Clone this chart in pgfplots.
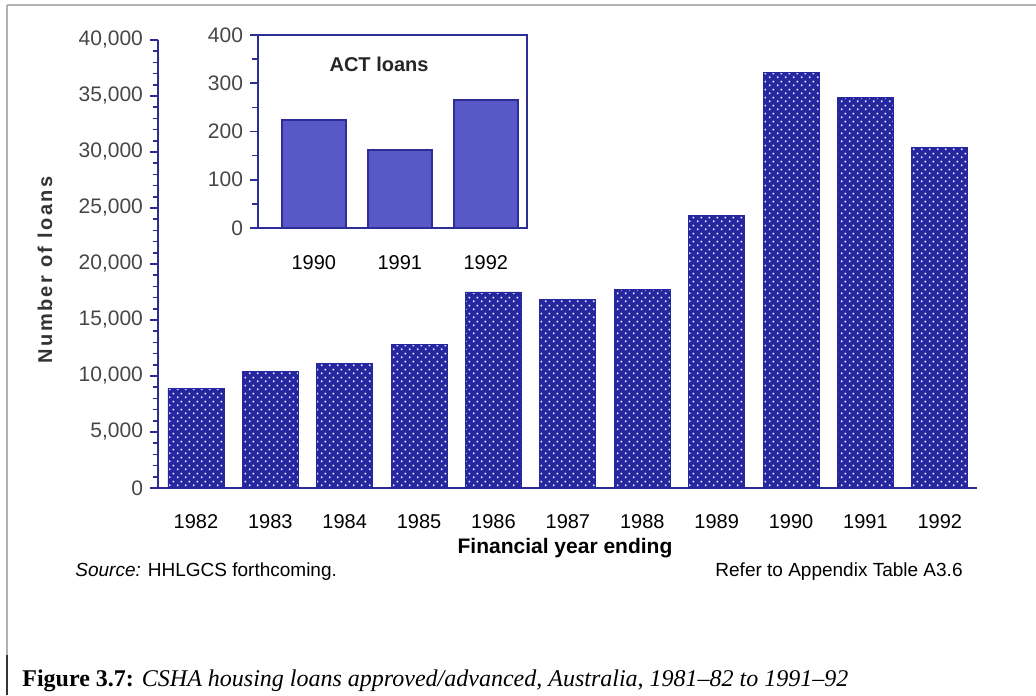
\documentclass[border=0pt]{standalone}
\usepackage{fontspec}
\setmainfont{Liberation Sans}
\newfontfamily\capfont{Liberation Serif}
\newfontfamily\spacedfont[LetterSpace=12]{Liberation Sans}
\usepackage{pgfplots}
\pgfplotsset{compat=1.18}
\usetikzlibrary{patterns.meta}

\definecolor{mainblue}{RGB}{38,38,158}
\definecolor{axblue}{RGB}{45,45,150}
\definecolor{insetfill}{RGB}{88,88,200}
\definecolor{dotcol}{RGB}{205,210,245}
\definecolor{ticktext}{RGB}{70,70,70}

\tikzdeclarepattern{
  name=bardots,
  type=uncolored,
  bottom left={(0pt,0pt)},
  top right={(4pt,4pt)},
  tile size={(4pt,4pt)},
  code={
    \fill (1pt,1pt) circle (0.65pt);
    \fill (3pt,3pt) circle (0.65pt);
  }
}

\pgfplotstableread{
x  loans
0  8900
1  10400
2  11100
3  12800
4  17500
5  16800
6  17700
7  24300
8  37100
9  34900
10 30400
}\mainloans

\pgfplotstableread{
x  act
0  224
1  162
2  265
}\actloans

\begin{document}
\begin{tikzpicture}
\path[use as bounding box] (0,0) rectangle (518pt,347.5pt);
% page frame
\draw[gray!60, line width=0.6pt] (3.5pt,345pt) -- (518pt,345pt);
\draw[gray!60, line width=0.6pt] (3.5pt,345pt) -- (3.5pt,0pt);
\draw[black!80, line width=0.8pt] (3.5pt,20pt) -- (3.5pt,0pt);

\begin{axis}[
  at={(79pt,103.5pt)}, anchor=south west,
  scale only axis, width=409.5pt, height=224pt,
  xmin=-0.51, xmax=10.5, ymin=0, ymax=40000,
  enlargelimits=false,
  axis x line*=bottom, axis y line*=left,
  x axis line style={-, axblue, line width=1pt},
  y axis line style={-, axblue, line width=1pt},
  xtick={0,...,10},
  xticklabels={1982,1983,1984,1985,1986,1987,1988,1989,1990,1991,1992},
  x tick style={draw=none},
  xticklabel style={font=\fontsize{10}{12}\selectfont, yshift=-5.5pt},
  ytick={0,5000,...,40000},
  yticklabels={0,{5,000},{10,000},{15,000},{20,000},{25,000},{30,000},{35,000},{40,000}},
  yticklabel style={font=\fontsize{10.5}{12}\selectfont, text=ticktext},
  minor y tick num=4,
  tick align=outside,
  major tick length=4pt, minor tick length=2.5pt,
  y tick style={axblue, line width=0.8pt},
  scaled y ticks=false,
]
\addplot[ybar, bar width=28pt, draw=mainblue, fill=mainblue,
  postaction={pattern=bardots, pattern color=dotcol}]
  table[x=x, y=loans] {\mainloans};
\end{axis}

\begin{axis}[
  at={(129pt,233.5pt)}, anchor=south west,
  scale only axis, width=134.5pt, height=96.5pt,
  xmin=-0.65, xmax=2.48, ymin=0, ymax=400,
  enlargelimits=false,
  /pgf/number format/assume math mode=true,
  axis background/.style={fill=white},
  axis line style={axblue, line width=1.1pt},
  xtick={0,1,2},
  xticklabels={1990,1991,1992},
  x tick style={draw=none},
  xticklabel style={font=\fontsize{10}{12}\selectfont, yshift=-6pt},
  ytick={0,100,...,400},
  yticklabel style={font=\fontsize{10.5}{12}\selectfont, text=ticktext},
  minor y tick num=1,
  ytick pos=left,
  tick align=outside,
  major tick length=4pt, minor tick length=3pt,
  y tick style={axblue, line width=0.8pt},
]
\addplot[ybar, bar width=32pt, draw=axblue, line width=0.8pt, fill=insetfill]
  table[x=x, y=act] {\actloans};
\node[font=\bfseries\fontsize{10}{12}\selectfont, text=black!85] at (rel axis cs:0.45,0.85) {ACT loans};
\end{axis}

% axis titles and notes
\node[rotate=90, font=\bfseries\fontsize{10}{12}\selectfont\spacedfont, text=black!80] at (22.5pt,212.5pt) {Number of loans};
\node[font=\bfseries\fontsize{10.5}{12}\selectfont] at (282.5pt,73.5pt) {Financial year ending};
\node[anchor=west, inner sep=0pt, font=\fontsize{9.5}{12}\selectfont] at (37.5pt,61.5pt) {\textit{Source:} HHLGCS forthcoming.};
\node[anchor=east, inner sep=0pt, font=\fontsize{9.5}{12}\selectfont] at (481.5pt,61.5pt) {Refer to Appendix Table A3.6};
\node[anchor=west, inner sep=0pt, font=\capfont\fontsize{12}{14}\selectfont] at (11pt,7pt) {\textbf{Figure 3.7:} \textit{CSHA housing loans approved/advanced, Australia, 1981\textendash 82 to 1991\textendash 92}};
\end{tikzpicture}
\end{document}
